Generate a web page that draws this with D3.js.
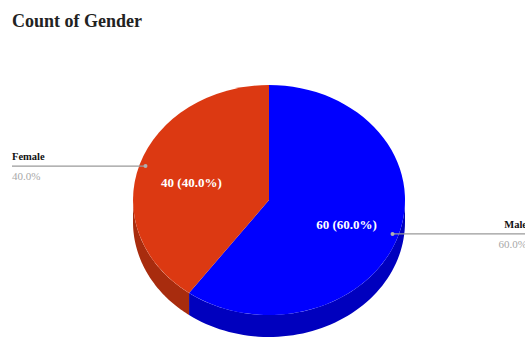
<!DOCTYPE html>
<html>
<head>
<meta charset="utf-8">
<script src="https://cdn.jsdelivr.net/npm/d3@7"></script>
<style>
  html, body { margin: 0; padding: 0; background: #fff; }
  svg { display: block; }
  text { font-family: "Liberation Serif", "Times New Roman", serif; }
</style>
</head>
<body>
<svg id="chart" width="525" height="338"></svg>
<script>
const title = "Count of Gender";
const categories = ["Male", "Female"];
const values = [60, 40];
const topColors = ["#0000FF", "#DC3912"];
const sideColors = ["#0000BE", "#A82C0E"];

const W = 525, H = 338;
const cx = 269, cy = 200, rx = 136, ry = 115, depth = 22;

const svg = d3.select("#chart");
const total = d3.sum(values);
const pie = d3.pie().sort(null).value(d => d).startAngle(0).endAngle(2 * Math.PI);
const arcs = pie(values);

const px = a => cx + rx * Math.sin(a);
const py = a => cy - ry * Math.cos(a);

svg.append("text")
  .attr("x", 12).attr("y", 27)
  .attr("font-size", 18).attr("font-weight", "bold").attr("fill", "#222")
  .text(title);

// sides
const area = d3.area().x(a => px(a)).y0(a => py(a)).y1(a => py(a) + depth);
const sideG = svg.append("g");
arcs.forEach((d, i) => {
  const s = Math.max(d.startAngle, Math.PI / 2);
  const e = Math.min(d.endAngle, 3 * Math.PI / 2);
  if (e <= s) return;
  const pts = d3.range(0, 61).map(k => s + (e - s) * k / 60);
  sideG.append("path").attr("d", area(pts)).attr("fill", sideColors[i]);
});

// top faces
const arcGen = d3.arc().innerRadius(0).outerRadius(rx);
svg.append("g")
  .attr("transform", `translate(${cx},${cy}) scale(1,${ry / rx})`)
  .selectAll("path").data(arcs).join("path")
  .attr("d", arcGen)
  .attr("fill", (d, i) => topColors[i]);

// slice labels
arcs.forEach((d, i) => {
  const m = (d.startAngle + d.endAngle) / 2;
  const pct = (values[i] / total * 100).toFixed(1);
  svg.append("text")
    .attr("x", px(m) * 1 + (cx - px(m)) * 0.4)
    .attr("y", py(m) + (cy - py(m)) * 0.4 + 8)
    .attr("text-anchor", "middle")
    .attr("font-size", 13).attr("font-weight", "bold").attr("fill", "#fff")
    .text(`${values[i]} (${pct}%)`);
});

// leader lines & outside labels
arcs.forEach((d, i) => {
  const m = (d.startAngle + d.endAngle) / 2;
  const f = 0.955;
  const dx = cx + rx * Math.sin(m) * f;
  const dy = cy - ry * Math.cos(m) * f;
  const right = Math.sin(m) > 0;
  const endX = right ? W : 12;
  const tx = right ? 527 : 12;
  const anchor = right ? "end" : "start";
  const pct = (values[i] / total * 100).toFixed(1);
  svg.append("line")
    .attr("x1", dx).attr("y1", dy).attr("x2", endX).attr("y2", dy)
    .attr("stroke", "#9a9a9a").attr("stroke-width", 1.2);
  svg.append("circle").attr("cx", dx).attr("cy", dy).attr("r", 2)
    .attr("fill", "#b0b0b0");
  svg.append("text")
    .attr("x", tx).attr("y", dy - 6)
    .attr("text-anchor", anchor)
    .attr("font-size", 10.5).attr("font-weight", "bold").attr("fill", "#111")
    .text(categories[i]);
  svg.append("text")
    .attr("x", tx).attr("y", dy + 14)
    .attr("text-anchor", anchor)
    .attr("font-size", 11).attr("fill", "#a8a8a8")
    .text(`${pct}%`);
});
</script>
</body>
</html>
